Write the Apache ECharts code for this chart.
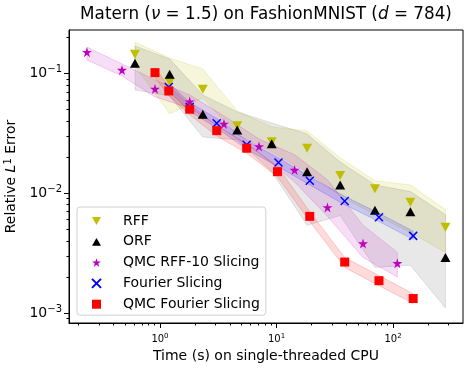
<!DOCTYPE html>
<html>
<head>
<meta charset="utf-8">
<script src="https://cdn.jsdelivr.net/npm/echarts@6/dist/echarts.min.js"></script>
<style>
  html, body { margin: 0; padding: 0; background: #fff; }
  #chart { width: 472px; height: 371px; }
</style>
</head>
<body>
<div id="chart"></div>
<script>
// RFF / ORF share the same timings
var rffTime = [0.61, 1.21, 2.33, 4.6, 9.1, 18.3, 35.2, 70, 141, 282];
var rffErr = [0.144, 0.0841, 0.0736, 0.0364, 0.0268, 0.0237, 0.0140, 0.0109, 0.0084, 0.0052];
var rffHi = [0.182, 0.134, 0.1086, 0.0485, 0.0357, 0.0330, 0.0197, 0.0127, 0.0117, 0.0073];
var rffLo = [0.115, 0.0458, 0.0623, 0.0306, 0.0221, 0.0151, 0.0095, 0.0066, 0.0047, 0.0032];

var orfErr = [0.121, 0.0981, 0.0455, 0.0337, 0.0258, 0.0151, 0.0117, 0.0072, 0.0070, 0.0029];
var orfHi = [0.169, 0.1316, 0.0659, 0.0476, 0.0385, 0.0312, 0.0182, 0.0117, 0.0103, 0.0066];
var orfLo = [0.0726, 0.0647, 0.0294, 0.0278, 0.0151, 0.0054, 0.0065, 0.0024, 0.0025, 0.0011];

var qrffTime = [0.236, 0.472, 0.906, 1.8, 3.54, 7.08, 14.3, 27.4, 55.3, 109];
var qrffErr = [0.150, 0.1065, 0.074, 0.058, 0.0378, 0.0245, 0.0156, 0.0076, 0.0038, 0.0026];
var qrffHi = [0.1656, 0.1196, 0.088, 0.0659, 0.0441, 0.0283, 0.0209, 0.0129, 0.0054, 0.0032];
var qrffLo = [0.1291, 0.095, 0.0635, 0.0514, 0.0337, 0.0217, 0.0124, 0.0064, 0.0029, 0.0020];

var fsTime = [1.19, 1.8, 3.07, 5.55, 10.4, 19.3, 38.5, 75.8, 149];
var fsErr = [0.0769, 0.0524, 0.0383, 0.0253, 0.0180, 0.0127, 0.0086, 0.0063, 0.0044];
var fsHi = [0.083, 0.057, 0.042, 0.0275, 0.0196, 0.0137, 0.0094, 0.0068, 0.0048];
var fsLo = [0.071, 0.048, 0.035, 0.0232, 0.0166, 0.0117, 0.0080, 0.0058, 0.0041];

var qfsTime = [0.906, 1.19, 1.8, 3.07, 5.55, 10.2, 19.3, 38.5, 75.8, 149];
var qfsErr = [0.1012, 0.0712, 0.0501, 0.0332, 0.0237, 0.0151, 0.0064, 0.00266, 0.00186, 0.00132];
var qfsHi = [0.111, 0.078, 0.055, 0.0365, 0.026, 0.0167, 0.0070, 0.0029, 0.00205, 0.00145];
var qfsLo = [0.092, 0.065, 0.045, 0.030, 0.0215, 0.0137, 0.0058, 0.0024, 0.00169, 0.0012];

var xMajor = [1, 10, 100];
var xAllTicks = [0.2, 0.3, 0.4, 0.5, 0.6, 0.7, 0.8, 0.9, 1, 2, 3, 4, 5, 6, 7, 8, 9, 10, 20, 30, 40, 50, 60, 70, 80, 90, 100, 200, 300];
var yMajor = [0.001, 0.01, 0.1];
var yAllTicks = [0.0009, 0.001, 0.002, 0.003, 0.004, 0.005, 0.006, 0.007, 0.008, 0.009, 0.01, 0.02, 0.03, 0.04, 0.05, 0.06, 0.07, 0.08, 0.09, 0.1, 0.2];

var names = ['RFF', 'ORF', 'QMC RFF-10 Slicing', 'Fourier Slicing', 'QMC Fourier Slicing'];

var FONT = 'DejaVu Sans';
var triDown = 'path://M0,0L10,0L5,8.66Z';
var triUp = 'path://M5,0L10,8.66L0,8.66Z';
var star = 'path://M50,0L61.23,34.55L97.55,34.55L68.17,55.9L79.39,90.45L50,69.1L20.61,90.45L31.83,55.9L2.45,34.55L38.77,34.55Z';
var cross = 'path://M0,0L10,10M10,0L0,10';

function pairs(xs, ys) {
    return xs.map(function (x, i) { return [x, ys[i]] })
}

function band(id, xs, lo, hi, fill, edge) {
    return {
        type: 'custom',
        id: id,
        silent: true,
        z: 1,
        clip: true,
        data: [[xs[0], lo[0]]],
        renderItem: function (params, api) {
            var pts = []
            for (var i = 0; i < xs.length; i++) pts.push(api.coord([xs[i], hi[i]]))
            for (var j = xs.length - 1; j >= 0; j--) pts.push(api.coord([xs[j], lo[j]]))
            return {
                type: 'polygon',
                shape: { points: pts },
                style: { fill: fill, stroke: edge, lineWidth: 1 }
            }
        }
    }
}

function logLabel(v) {
    var e = Math.round(Math.log10(v))
    return '10{s|' + (e < 0 ? '\u2212' + (-e) : e) + '}'
}

var xRange = { min: 0.1656, max: 398.9 };
var yRange = { min: 0.000825, max: 0.2296 };

var myChart = echarts.init(document.getElementById('chart'))

var option = {
    animation: false,
    title: {
        text: '{n|Matern (}{i|\u03bd}{n| = 1.5) on FashionMNIST (}{i|d}{n| = 784)}',
        left: 266,
        top: 6,
        padding: 0,
        textAlign: 'center',
        textStyle: {
            fontWeight: 'normal',
            rich: {
                n: { fontSize: 16.8, fontFamily: FONT, fontWeight: 'normal', color: '#000' },
                i: { fontSize: 16.8, fontFamily: FONT, fontWeight: 'normal', fontStyle: 'italic', color: '#000' }
            }
        }
    },
    grid: {
        left: 69, right: 9, top: 30, bottom: 48,
        containLabel: false,
        outerBoundsMode: 'none',
        show: true, borderColor: '#000', borderWidth: 1
    },
    legend: {
        orient: 'vertical',
        left: 77, top: 207,
        data: [
            { name: names[0], icon: triDown },
            { name: names[1], icon: triUp },
            { name: names[2], icon: star },
            { name: names[3], icon: cross },
            { name: names[4], icon: 'rect' }
        ],
        itemWidth: 9, itemHeight: 9, itemGap: 6.8,
        padding: [7, 6, 4, 14],
        backgroundColor: 'rgba(255,255,255,0.8)',
        borderColor: '#d0d0d0', borderWidth: 1, borderRadius: 3,
        textStyle: { fontSize: 14, fontFamily: FONT, color: '#000', padding: [0, 0, 0, 17] }
    },
    xAxis: [
        {
            type: 'log', min: xRange.min, max: xRange.max, position: 'bottom',
            name: 'Time (s) on single-threaded CPU', nameLocation: 'middle', nameGap: 23,
            nameTextStyle: { fontSize: 14, fontFamily: FONT, color: '#000' },
            axisLine: { lineStyle: { color: '#000' } },
            axisTick: { customValues: xAllTicks, length: 2.5, lineStyle: { color: '#000' } },
            axisLabel: {
                customValues: xMajor, formatter: logLabel, margin: 10,
                fontSize: 10, fontFamily: FONT, color: '#000',
                rich: { s: { fontSize: 7, fontFamily: FONT, color: '#000', padding: [0, 0, 6, 0] } }
            },
            splitLine: { show: false }
        },
        {
            type: 'log', min: xRange.min, max: xRange.max, position: 'bottom',
            axisLine: { show: true, lineStyle: { color: 'rgba(0,0,0,0)' } },
            axisTick: { show: true, customValues: xMajor, length: 5, lineStyle: { color: '#000' } },
            axisLabel: { show: false },
            splitLine: { show: false }
        }
    ],
    yAxis: [
        {
            type: 'log', min: yRange.min, max: yRange.max, position: 'left',
            name: '{n|Relative }{i|L}{s|1}{n| Error}', nameLocation: 'middle', nameGap: 46,
            nameTextStyle: {
                rich: {
                    n: { fontSize: 14, fontFamily: FONT, color: '#000' },
                    i: { fontSize: 14, fontFamily: FONT, fontStyle: 'italic', color: '#000' },
                    s: { fontSize: 10, fontFamily: FONT, color: '#000', padding: [0, 0, 7, 0] }
                }
            },
            axisLine: { lineStyle: { color: '#000' } },
            axisTick: { customValues: yAllTicks, length: 2.5, lineStyle: { color: '#000' } },
            axisLabel: {
                customValues: yMajor, formatter: logLabel, margin: 7,
                fontSize: 14, fontFamily: FONT, color: '#000',
                rich: { s: { fontSize: 10, fontFamily: FONT, color: '#000', padding: [0, 0, 8, 0] } }
            },
            splitLine: { show: false }
        },
        {
            type: 'log', min: yRange.min, max: yRange.max, position: 'left',
            axisLine: { show: true, lineStyle: { color: 'rgba(0,0,0,0)' } },
            axisTick: { show: true, customValues: yMajor, length: 5, lineStyle: { color: '#000' } },
            axisLabel: { show: false },
            splitLine: { show: false }
        }
    ],
    series: [
        band('b0', rffTime, rffLo, rffHi, 'rgba(191,191,0,0.14)', 'rgba(191,191,0,0.18)'),
        band('b1', rffTime, orfLo, orfHi, 'rgba(0,0,0,0.09)', 'rgba(0,0,0,0.1)'),
        band('b2', qrffTime, qrffLo, qrffHi, 'rgba(191,0,191,0.13)', 'rgba(191,0,191,0.18)'),
        band('b3', fsTime, fsLo, fsHi, 'rgba(0,0,255,0.14)', 'rgba(0,0,255,0.18)'),
        band('b4', qfsTime, qfsLo, qfsHi, 'rgba(255,0,0,0.14)', 'rgba(255,0,0,0.18)'),
        {
            name: names[0], type: 'scatter', z: 3, symbol: triDown, symbolSize: [10, 9],
            itemStyle: { color: '#bfbf00', opacity: 1 },
            data: pairs(rffTime, rffErr)
        },
        {
            name: names[1], type: 'scatter', z: 3, symbol: triUp, symbolSize: [10, 9],
            itemStyle: { color: '#000', opacity: 1 },
            data: pairs(rffTime, orfErr)
        },
        {
            name: names[2], type: 'scatter', z: 3, symbol: star, symbolSize: 10,
            itemStyle: { color: '#bf00bf', opacity: 1 },
            data: pairs(qrffTime, qrffErr)
        },
        {
            name: names[3], type: 'scatter', z: 3, symbol: cross, symbolSize: 8,
            itemStyle: { color: 'rgba(0,0,0,0)', borderColor: '#0000ff', borderWidth: 1.5, opacity: 1 },
            data: pairs(fsTime, fsErr)
        },
        {
            name: names[4], type: 'scatter', z: 3, symbol: 'rect', symbolSize: 9,
            itemStyle: { color: '#ff0000', opacity: 1 },
            data: pairs(qfsTime, qfsErr)
        }
    ]
};
myChart.setOption(option)
</script>
</body>
</html>
